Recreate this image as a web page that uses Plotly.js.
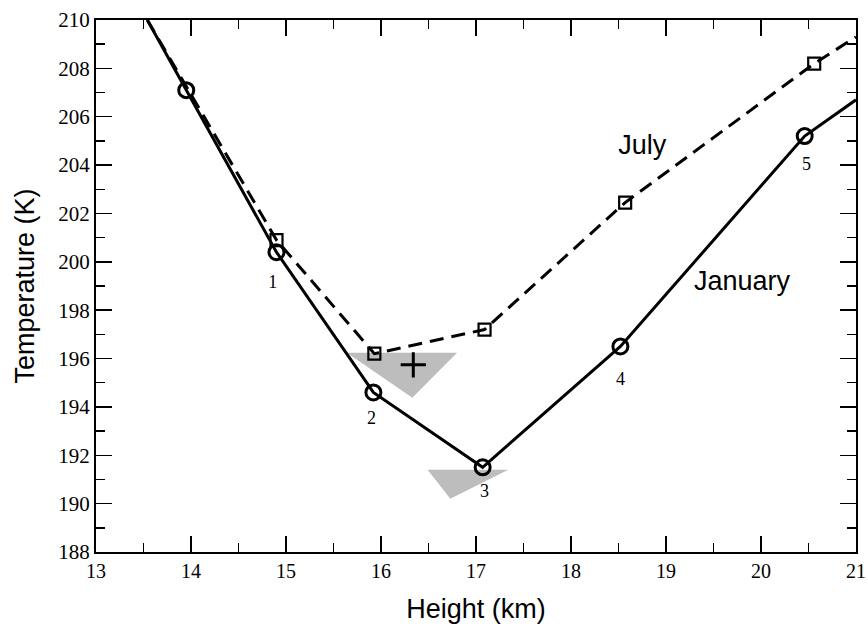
<!DOCTYPE html>
<html>
<head>
<meta charset="utf-8">
<script src="https://cdn.plot.ly/plotly-3.0.1.min.js"></script>
<style>html,body{margin:0;padding:0;background:#fff;}#chart{width:868px;height:626px;}</style>
</head>
<body>
<div id="chart"></div>
<script>
// January (solid, circles)
const janX = [13.54, 13.95, 14.9, 15.92, 17.07, 18.52, 20.46, 21.0];
const janY = [210.0, 207.1, 200.4, 194.6, 191.5, 196.5, 205.2, 206.7];
// January marked points
const janPtX = [13.95, 14.9, 15.92, 17.07, 18.52, 20.46];
const janPtY = [207.1, 200.4, 194.6, 191.5, 196.5, 205.2];
// July (dashed, squares)
const julX = [13.54, 14.9, 15.93, 17.09, 18.57, 20.56, 21.0];
const julY = [210.0, 200.9, 196.2, 197.2, 202.45, 208.2, 209.3];
const julPtX = [14.9, 15.93, 17.09, 18.57, 20.56];
const julPtY = [200.9, 196.2, 197.2, 202.45, 208.2];
// shaded triangles
const tri1X = [15.64, 16.8, 16.33, 15.64];
const tri1Y = [196.24, 196.24, 194.38, 196.24];
const tri2X = [16.49, 17.34, 16.73, 16.49];
const tri2Y = [191.4, 191.4, 190.2, 191.4];
// cross marker
const crossX = [16.34];
const crossY = [195.74];
// point number labels
const numX = [14.86, 15.9, 17.09, 18.52, 20.48];
const numY = [199.1, 193.47, 190.45, 195.1, 204.0];
const numText = ['1', '2', '3', '4', '5'];
// series labels
const seriesX = [18.75, 19.8];
const seriesY = [204.75, 199.13];
const seriesText = ['July', 'January'];
// axis ticks
const yTickVals = [188, 190, 192, 194, 196, 198, 200, 202, 204, 206, 208, 210];
const xTickVals = [13, 14, 15, 16, 17, 18, 19, 20, 21];

const traces = [
  {x: tri1X, y: tri1Y, mode: 'none', fill: 'toself', fillcolor: '#bdbdbd', hoverinfo: 'skip'},
  {x: tri2X, y: tri2Y, mode: 'none', fill: 'toself', fillcolor: '#bdbdbd', hoverinfo: 'skip'},
  {x: julX, y: julY, mode: 'lines', line: {color: '#000000', width: 3, dash: '14px,8px'}},
  {x: janX, y: janY, mode: 'lines', line: {color: '#000000', width: 3}},
  {x: julPtX, y: julPtY, mode: 'markers', opacity: 1,
   marker: {symbol: 'square-open', size: 12, color: '#000000', opacity: 1, line: {width: 2.2, color: '#000000'}}},
  {x: janPtX, y: janPtY, mode: 'markers', opacity: 1,
   marker: {symbol: 'circle-open', size: 15, color: '#000000', opacity: 1, line: {width: 3, color: '#000000'}}},
  {x: crossX, y: crossY, mode: 'markers', opacity: 1,
   marker: {symbol: 'cross-thin-open', size: 18, color: '#000000', opacity: 1, line: {width: 3, color: '#000000'}}},
  {x: numX, y: numY, mode: 'text', text: numText, textfont: {family: 'Liberation Serif', size: 18, color: '#000'}},
  {x: seriesX, y: seriesY, mode: 'text', text: seriesText, textfont: {family: 'Liberation Sans', size: 27, color: '#000'}}
];

const layout = {
  width: 868, height: 626,
  margin: {l: 96, r: 12, t: 20, b: 74},
  showlegend: false,
  paper_bgcolor: '#fff', plot_bgcolor: '#fff',
  xaxis: {
    range: [13, 21], tickvals: xTickVals, ticktext: xTickVals.map(String),
    ticks: 'inside', ticklen: 16, tickwidth: 1.5, tickcolor: '#000',
    minor: {dtick: 0.5, tick0: 13, ticks: 'inside', ticklen: 9, tickwidth: 1.5, tickcolor: '#000'},
    showline: true, linecolor: '#000', linewidth: 2, mirror: 'ticks',
    showgrid: false, zeroline: false,
    tickfont: {family: 'Liberation Serif', size: 20, color: '#000'},
    title: {text: 'Height (km)', font: {family: 'Liberation Sans', size: 27, color: '#000'}, standoff: 18}
  },
  yaxis: {
    range: [188, 210], tickvals: yTickVals, ticktext: yTickVals.map(String),
    ticks: 'inside', ticklen: 16, tickwidth: 1.5, tickcolor: '#000',
    minor: {dtick: 1, tick0: 188, ticks: 'inside', ticklen: 9, tickwidth: 1.5, tickcolor: '#000'},
    showline: true, linecolor: '#000', linewidth: 2, mirror: 'ticks',
    showgrid: false, zeroline: false,
    tickfont: {family: 'Liberation Serif', size: 21, color: '#000'},
    title: {text: 'Temperature (K)', font: {family: 'Liberation Sans', size: 27, color: '#000'}, standoff: 16}
  }
};

Plotly.newPlot('chart', traces, layout, {staticPlot: true, displayModeBar: false});
</script>
</body>
</html>
